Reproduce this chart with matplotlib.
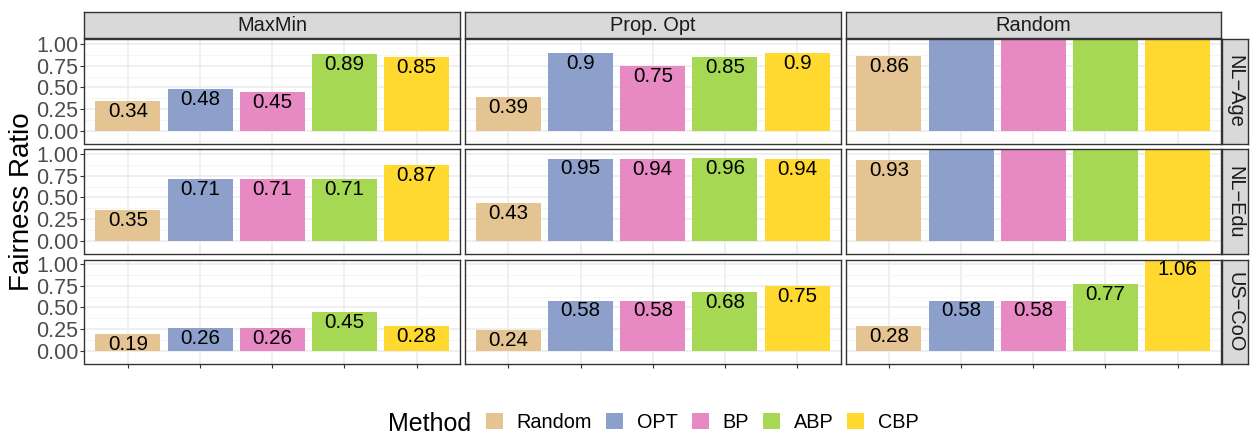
import numpy as np
import matplotlib.pyplot as plt
from matplotlib.patches import Patch

plt.rcParams['font.family'] = ['Liberation Sans', 'DejaVu Sans']

# facets
criteria = ['MaxMin', 'Prop. Opt', 'Random']
datasets = ['NL\u2212Age', 'NL\u2212Edu', 'US\u2212CoO']
methods = ['Random', 'OPT', 'BP', 'ABP', 'CBP']
method_colors = ['#E5C494', '#8DA0CB', '#E78AC3', '#A6D854', '#FFD92F']

# fairness ratio per (criterion, dataset), one value per method
maxmin_age = [0.34, 0.48, 0.45, 0.89, 0.85]
maxmin_edu = [0.35, 0.71, 0.71, 0.71, 0.87]
maxmin_coo = [0.19, 0.26, 0.26, 0.45, 0.28]
propopt_age = [0.39, 0.90, 0.75, 0.85, 0.90]
propopt_edu = [0.43, 0.95, 0.94, 0.96, 0.94]
propopt_coo = [0.24, 0.58, 0.58, 0.68, 0.75]
random_age = [0.86, 1.45, 1.52, 1.48, 1.50]   # bars above 1 are cut off in the figure
random_edu = [0.93, 1.47, 1.55, 1.50, 1.53]
random_coo = [0.28, 0.58, 0.58, 0.77, 1.06]

values = {
    ('MaxMin', 0): maxmin_age, ('MaxMin', 1): maxmin_edu, ('MaxMin', 2): maxmin_coo,
    ('Prop. Opt', 0): propopt_age, ('Prop. Opt', 1): propopt_edu, ('Prop. Opt', 2): propopt_coo,
    ('Random', 0): random_age, ('Random', 1): random_edu, ('Random', 2): random_coo,
}

W, H = 1250, 436
fig = plt.figure(figsize=(W / 100, H / 100), dpi=100)

def box(x0, y0, w, h):
    # pixel box (top-left origin) -> figure fraction
    return [x0 / W, 1 - (y0 + h) / H, w / W, h / H]

left, pw, gapx = 84.5, 375.5, 5.0
top, ph, gapy = 39.5, 104.5, 5.5
edge = '#333333'
ymax = 1.055
x = np.arange(1, len(methods) + 1)

for j, crit in enumerate(criteria):
    px = left + j * (pw + gapx)
    # top strip
    sa = fig.add_axes(box(px, 12, pw, 26.5))
    sa.set_facecolor('#D9D9D9')
    sa.set_xticks([]); sa.set_yticks([])
    for s in sa.spines.values():
        s.set_color(edge); s.set_linewidth(1.0)
    sa.text(0.5, 0.5, crit, ha='center', va='center', fontsize=14.4,
            color='#1A1A1A', transform=sa.transAxes)

    for i in range(len(datasets)):
        py = top + i * (ph + gapy)
        ax = fig.add_axes(box(px, py, pw, ph))
        vals = values[(crit, i)]
        ax.bar(x, vals, width=0.9, color=method_colors, zorder=2)
        for xi, v in zip(x, vals):
            if v > ymax + 0.1:
                continue  # label would sit outside the panel
            ax.annotate(f'{round(v, 2):g}', xy=(xi, v), xytext=(0, -7.5),
                        textcoords='offset points', ha='center', va='center',
                        fontsize=14.8, color='black', zorder=3)
        ax.set_xlim(0.4, 5.6)
        ax.set_ylim(-0.155, ymax)
        ax.set_yticks([0, 0.25, 0.5, 0.75, 1.0])
        ax.set_yticks([-0.125, 0.125, 0.375, 0.625, 0.875], minor=True)
        ax.set_xticks(x)
        ax.grid(which='major', color='#EBEBEB', linewidth=1.1, zorder=0)
        ax.grid(which='minor', axis='y', color='#F4F4F4', linewidth=0.6, zorder=0)
        ax.set_axisbelow(True)
        for s in ax.spines.values():
            s.set_color(edge); s.set_linewidth(1.0)
        ax.tick_params(which='minor', length=0)
        ax.tick_params(axis='both', color=edge, length=3.0, width=0.8)
        if j == 0:
            ax.set_yticklabels(['0.00', '0.25', '0.50', '0.75', '1.00'],
                               fontsize=15.5, color='#4D4D4D')
            ax.tick_params(axis='y', pad=1.5)
        else:
            ax.tick_params(axis='y', length=0, labelleft=False)
        if i == len(datasets) - 1:
            ax.tick_params(axis='x', labelbottom=False)
        else:
            ax.tick_params(axis='x', length=0, labelbottom=False)

        if j == len(criteria) - 1:
            ra = fig.add_axes(box(px + pw + 1, py, 26, ph))
            ra.set_facecolor('#D9D9D9')
            ra.set_xticks([]); ra.set_yticks([])
            for s in ra.spines.values():
                s.set_color(edge); s.set_linewidth(1.0)
            ra.text(0.5, 0.5, datasets[i], ha='center', va='center', rotation=-90,
                    fontsize=14.4, color='#1A1A1A', transform=ra.transAxes)

fig.text(22 / W, 1 - (top + 1.5 * ph + gapy) / H, 'Fairness Ratio', rotation=90,
         ha='center', va='center', fontsize=20)

# legend
fig.text(388 / W, 1 - 424 / H, 'Method', ha='left', va='center', fontsize=18)
handles = [Patch(facecolor=c, edgecolor='none', label=m)
           for m, c in zip(methods, method_colors)]
fig.legend(handles=handles, loc='center left', bbox_to_anchor=(486 / W, 1 - 422 / H),
           ncol=5, frameon=False, fontsize=14.3, handlelength=0.85, handleheight=0.85,
           handletextpad=0.7, columnspacing=0.7, borderaxespad=0, borderpad=0)

fig.savefig('out.png', dpi=100)
